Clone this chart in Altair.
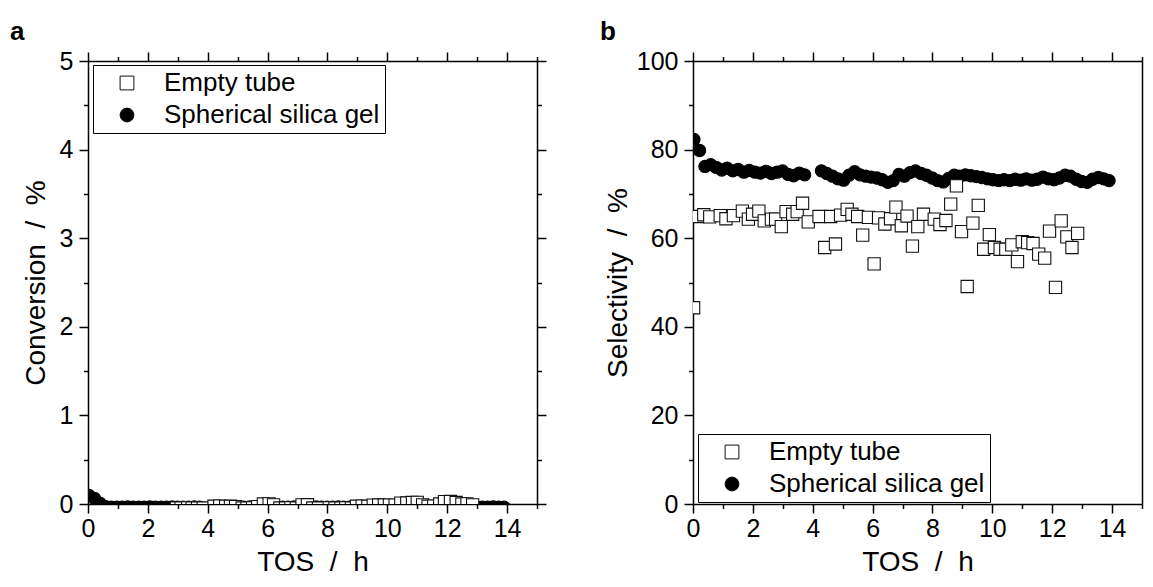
import altair as alt
import pandas as pd

SERIES = ["Empty tube", "Spherical silica gel"]
PANEL_LABELS = ["a", "b"]
X_TICKS = list(range(0, 16))
YA_TICKS = [0, 0.5, 1, 1.5, 2, 2.5, 3, 3.5, 4, 4.5, 5]
YB_TICKS = [0, 10, 20, 30, 40, 50, 60, 70, 80, 90, 100]

# Empty tube (open squares)
tube_tos = [0.02, 0.17, 0.36, 0.56, 0.91, 1.10, 1.35, 1.65, 1.85, 1.99,
            2.20, 2.38, 2.62, 2.76, 2.95, 3.11, 3.33, 3.48, 3.66, 3.85,
            4.21, 4.40, 4.60, 4.76, 4.93, 5.15, 5.31, 5.50, 5.67, 5.86,
            6.05, 6.20, 6.41, 6.60, 6.78, 6.96, 7.15, 7.33, 7.51, 7.70,
            8.06, 8.25, 8.45, 8.61, 8.80, 8.97, 9.16, 9.35, 9.53, 9.71,
            9.90, 10.07, 10.26, 10.45, 10.65, 10.84, 11.00, 11.18, 11.36, 11.55,
            11.75, 11.91, 12.11, 12.30, 12.49, 12.66, 12.85]
tube_sel = [44.3, 64.9, 65.3, 64.8, 65.1, 64.4, 65.1, 66.1, 64.3, 65.4,
            66.1, 63.9, 64.3, 64.3, 62.6, 66.0, 65.4, 66.0, 67.9, 63.7,
            64.9, 57.9, 64.9, 58.7, 65.2, 66.5, 65.4, 64.9, 60.7, 64.7,
            54.2, 64.6, 63.2, 64.4, 67.0, 62.8, 65.0, 58.2, 62.6, 65.4,
            64.3, 63.1, 64.0, 67.7, 71.8, 61.5, 49.1, 63.4, 67.4, 57.5,
            60.8, 57.9, 57.5, 57.5, 58.5, 54.7, 59.2, 59.0, 58.8, 56.4,
            55.5, 61.6, 48.9, 63.9, 60.3, 57.9, 61.1]
tube_conv = [-0.080, -0.081, -0.080, -0.082, -0.080, -0.081, -0.080, -0.082, -0.080, -0.081,
             -0.080, -0.082, -0.080, -0.081, -0.045, -0.046, -0.044, -0.045, -0.046, -0.045,
             -0.025, -0.024, -0.026, -0.025, -0.030, -0.045, -0.046, -0.044, -0.030, 0.000,
             0.002, -0.010, -0.045, -0.046, -0.044, -0.045, -0.010, -0.008, -0.045, -0.046,
             -0.044, -0.045, -0.046, -0.044, -0.045, -0.025, -0.024, -0.026, -0.012, -0.011,
             -0.013, -0.012, -0.012, 0.010, 0.011, 0.017, 0.018, -0.010, -0.025, -0.024,
             0.000, 0.026, 0.028, 0.017, 0.000, 0.001, -0.010]

# Spherical silica gel (filled circles)
gel_tos = [0.03, 0.22, 0.40, 0.59, 0.77, 0.96, 1.14, 1.33, 1.51, 1.70,
           1.88, 2.07, 2.25, 2.44, 2.62, 2.81, 2.99, 3.18, 3.36, 3.55,
           3.73, 4.29, 4.47, 4.66, 4.84, 5.03, 5.21, 5.40, 5.58, 5.77,
           5.95, 6.14, 6.32, 6.51, 6.69, 6.88, 7.06, 7.25, 7.43, 7.62,
           7.80, 7.99, 8.17, 8.36, 8.54, 8.73, 8.91, 9.10, 9.28, 9.47,
           9.65, 9.84, 10.02, 10.21, 10.39, 10.58, 10.76, 10.95, 11.13, 11.32,
           11.50, 11.69, 11.87, 12.06, 12.24, 12.43, 12.61, 12.80, 12.98, 13.17,
           13.35, 13.54, 13.72, 13.90]
gel_sel = [82.3, 79.8, 76.2, 76.6, 76.0, 75.4, 75.8, 75.2, 75.5, 74.9,
           75.3, 74.9, 74.7, 75.1, 74.6, 74.9, 75.2, 74.4, 74.1, 74.7,
           74.3, 75.2, 74.6, 74.0, 73.4, 73.1, 74.2, 75.0, 74.3, 74.0,
           73.8, 73.6, 73.2, 72.6, 73.0, 74.4, 74.0, 74.8, 75.2, 74.6,
           74.2, 73.6, 73.0, 72.7, 73.5, 74.2, 74.0, 74.3, 74.1, 73.9,
           73.7, 73.4, 73.2, 73.0, 73.2, 73.0, 73.3, 73.1, 73.4, 73.1,
           73.3, 73.8, 73.4, 73.2, 73.6, 74.2, 74.0, 73.3, 72.8, 72.6,
           73.3, 73.7, 73.4, 73.0]
gel_conv = [0.096, 0.062, 0.010, -0.030, -0.035, -0.036, -0.035, -0.034, -0.035, -0.036,
            -0.035, -0.034, -0.035, -0.036, -0.035, -0.034, -0.035, -0.036, -0.035, -0.034,
            -0.035, -0.036, -0.035, -0.034, -0.035, -0.036, -0.035, -0.034, -0.035, -0.036,
            -0.035, -0.034, -0.035, -0.036, -0.035, -0.034, -0.035, -0.036, -0.035, -0.034,
            -0.035, -0.036, -0.035, -0.034, -0.035, -0.036, -0.035, -0.034, -0.035, -0.036,
            -0.035, -0.034, -0.035, -0.036, -0.035, -0.034, -0.035, -0.036, -0.035, -0.034,
            -0.035, -0.036, -0.035, -0.034, -0.035, -0.036, -0.035, -0.034, -0.035, -0.036,
            -0.035, -0.034, -0.035, -0.036]

FONT = "Liberation Sans"
W = 449
H = 443

df = pd.concat([
    pd.DataFrame({"tos": gel_tos, "sel": gel_sel, "conv": gel_conv,
                  "series": SERIES[1], "draw": 0}),
    pd.DataFrame({"tos": tube_tos, "sel": tube_sel, "conv": tube_conv,
                  "series": SERIES[0], "draw": 1}),
], ignore_index=True)

X_TEST = "datum.value % 2 === 0"


def tick_size(test):
    return {"condition": {"test": test, "value": 9}, "value": 4.5}


def panel(yfield, ydomain, yticks, ytest, ytitle, ytitle_pad, legend_y, label, label_x,
          right_ticks):
    xscale = alt.Scale(domain=[0, 15], nice=False, zero=False)
    yscale = alt.Scale(domain=ydomain, nice=False, zero=False)
    legend = alt.Legend(title=None, orient="none", legendX=5, legendY=legend_y,
                        strokeColor="black", fillColor="white", padding=5,
                        labelFont=FONT, labelFontSize=26, labelColor="black",
                        symbolSize=190, symbolStrokeColor="black", symbolStrokeWidth=1,
                        symbolOpacity=1, symbolOffset=16, labelOffset=24,
                        rowPadding=6, labelLimit=400)
    pts = alt.Chart(df).mark_point(size=150, opacity=1, fillOpacity=1,
                                   strokeWidth=1.1, clip=True).encode(
        x=alt.X("tos:Q", scale=xscale,
                axis=alt.Axis(orient="bottom", values=X_TICKS, title="TOS\u00a0\u00a0/\u00a0\u00a0h",
                              labelExpr=f"{X_TEST} ? format(datum.value, 'd') : ''",
                              tickSize=tick_size(X_TEST), grid=False,
                              labelFlush=False, labelOverlap=False)),
        y=alt.Y(f"{yfield}:Q", scale=yscale,
                axis=alt.Axis(orient="left", values=yticks, title=ytitle,
                              titlePadding=ytitle_pad,
                              labelExpr=f"{ytest} ? format(datum.value, 'd') : ''",
                              tickSize=tick_size(ytest), grid=False,
                              labelFlush=False, labelOverlap=False)),
        shape=alt.Shape("series:N", scale=alt.Scale(domain=SERIES, range=["square", "circle"]),
                        legend=legend),
        fill=alt.Fill("series:N", scale=alt.Scale(domain=SERIES, range=["white", "black"]),
                      legend=legend),
        stroke=alt.Stroke("series:N", scale=alt.Scale(domain=SERIES, range=["#111111", "black"]),
                          legend=legend),
        order=alt.Order("draw:Q"),
    )
    if right_ticks:
        yaxis_r = alt.Axis(orient="right", values=yticks, labels=False, title=None,
                           tickSize=tick_size(ytest), grid=False)
    else:
        yaxis_r = alt.Axis(orient="right", values=yticks, labels=False, title=None,
                           ticks=False, grid=False)
    mirror = alt.Chart(df).mark_point(opacity=0, clip=True).encode(
        x=alt.X("tos:Q", scale=xscale,
                axis=alt.Axis(orient="top", values=X_TICKS, labels=False, title=None,
                              tickSize=tick_size(X_TEST), grid=False)),
        y=alt.Y(f"{yfield}:Q", scale=yscale, axis=yaxis_r),
    )
    lab = alt.Chart(pd.DataFrame({"panel": [label]})).mark_text(
        font=FONT, fontSize=26, fontWeight="bold", align="left", baseline="alphabetic",
        color="black").encode(text="panel:N", x=alt.value(label_x), y=alt.value(-21))
    return alt.layer(pts, mirror, lab).resolve_axis(x="independent", y="independent").properties(
        width=W, height=H)


left = panel("conv", [0, 5], YA_TICKS, "datum.value % 1 === 0",
             "Conversion\u00a0\u00a0/\u00a0\u00a0%", 9, 4, PANEL_LABELS[0], -78, True)
right = panel("sel", [0, 100], YB_TICKS, "datum.value % 20 === 0",
              "Selectivity\u00a0\u00a0/\u00a0\u00a0%", 4, 373, PANEL_LABELS[1], -93, False)

chart = alt.hconcat(left, right, spacing=156, bounds="flush").resolve_scale(
    fill="independent", shape="independent", stroke="independent",
    x="independent", y="independent"
).resolve_legend(fill="independent", shape="independent", stroke="independent").properties(
    padding={"left": 1, "top": 10, "right": 0, "bottom": 0}
).configure_view(stroke="transparent").configure_axis(
    domainColor="black", domainWidth=1.5, tickColor="black", tickWidth=1.5,
    labelFont=FONT, labelFontSize=25, labelColor="black",
    titleFont=FONT, titleFontSize=28, titleFontWeight="normal", titleColor="black",
).configure_axisBottom(labelPadding=3, titlePadding=7).configure_axisLeft(
    labelPadding=6)

chart.save("out.html", embed_options={"renderer": "svg", "actions": False})
